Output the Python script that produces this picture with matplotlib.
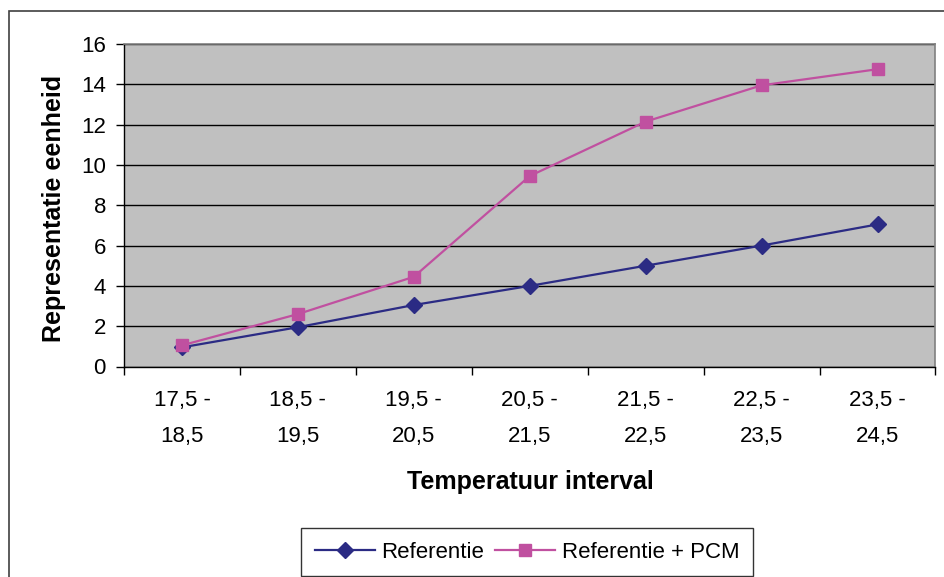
import matplotlib.pyplot as plt
from matplotlib.patches import Rectangle

plt.rcParams['font.family'] = ['Liberation Sans', 'DejaVu Sans']

# temperature intervals on the x axis
intervals = ['17,5 -\n18,5', '18,5 -\n19,5', '19,5 -\n20,5', '20,5 -\n21,5',
             '21,5 -\n22,5', '22,5 -\n23,5', '23,5 -\n24,5']
referentie = [0.95, 1.95, 3.05, 4.0, 5.0, 6.0, 7.05]
referentie_pcm = [1.05, 2.6, 4.45, 9.45, 12.15, 13.95, 14.75]

W, H = 945, 577
fig = plt.figure(figsize=(W / 100, H / 100), dpi=100)
fig.patch.set_facecolor('white')

# outer chart frame, runs off the right and bottom edges
fig.patches.append(Rectangle((9 / W, -0.1), 1.0, 1 - 11 / H + 0.1,
                             transform=fig.transFigure, fill=False,
                             edgecolor='#404040', lw=1.2, clip_on=False))

left, right, top, bottom = 124, 935.5, 44, 366.5
ax = fig.add_axes([left / W, 1 - bottom / H, (right - left) / W, (bottom - top) / H])
ax.set_facecolor('#C0C0C0')

xs = list(range(len(intervals)))
ax.plot(xs, referentie, color='#2B2B84', lw=1.6, marker='D', ms=8.5,
        label='Referentie', zorder=3)
ax.plot(xs, referentie_pcm, color='#C050A0', lw=1.6, marker='s', ms=9,
        label='Referentie + PCM', zorder=4)

ax.set_xlim(-0.5, len(intervals) - 0.5)
ax.set_ylim(0, 16)
ax.set_yticks(range(0, 17, 2))
ax.yaxis.grid(True, color='black', lw=1)
ax.set_axisbelow(True)

# category labels sit between the boundary ticks
ax.set_xticks([x - 0.5 for x in range(len(intervals) + 1)])
ax.set_xticklabels([])
ax.set_xticks(xs, minor=True)
ax.set_xticklabels(intervals, minor=True, fontsize=16, linespacing=1.95)
ax.tick_params(axis='x', which='minor', length=0, pad=17)
ax.tick_params(axis='x', which='major', direction='out', length=6, width=1)
ax.tick_params(axis='y', direction='out', length=6, width=1, labelsize=16, pad=7)

for s in ['top', 'right']:
    ax.spines[s].set_color('#808080')
    ax.spines[s].set_linewidth(1.2)
for s in ['left', 'bottom']:
    ax.spines[s].set_color('black')
    ax.spines[s].set_linewidth(1)

fig.text(530 / W, 1 - 482 / H, 'Temperatuur interval', ha='center', va='center',
         fontsize=18, fontweight='bold')
fig.text(54 / W, 1 - 208 / H, 'Representatie eenheid', ha='center', va='center',
         rotation=90, fontsize=18, fontweight='bold')

leg = fig.legend(loc='center', bbox_to_anchor=(527 / W, 1 - 552 / H), ncol=2,
                 fontsize=16, frameon=True, fancybox=False, edgecolor='black',
                 handlelength=2.7, handletextpad=0.3, columnspacing=0.5,
                 borderpad=0.6, borderaxespad=0)
leg.get_frame().set_linewidth(1)

fig.savefig('out.png', dpi=100)
